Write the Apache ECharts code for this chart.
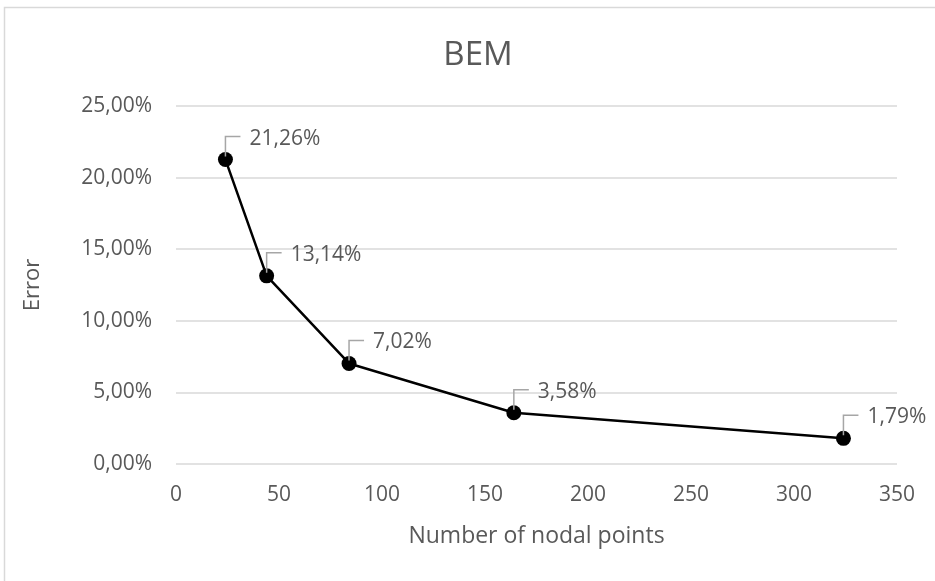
<!DOCTYPE html>
<html>
<head>
<meta charset="utf-8">
<script src="https://cdn.jsdelivr.net/npm/echarts@6/dist/echarts.min.js"></script>
<style>
  html, body { margin: 0; padding: 0; background: #fff; }
  #chart { width: 935px; height: 581px; }
</style>
</head>
<body>
<div id="chart"></div>
<script>
// BEM discretisation study: error versus number of nodal points
const nodalPoints = [24, 44, 84, 164, 324];
const errorPct = [21.26, 13.14, 7.02, 3.58, 1.79];
const titleText = 'BEM';
const xName = 'Number of nodal points';
const yName = 'Error';

const FONT = '"Open Sans", "Liberation Sans", sans-serif';
const TEXT = '#595959';
const GRID = '#d9d9d9';

const pct = v => v.toFixed(2).replace('.', ',') + '%';
const points = nodalPoints.map((x, i) => [x, errorPct[i]]);

const chart = echarts.init(document.getElementById('chart'));
chart.setOption({
  animation: false,
  backgroundColor: '#fff',
  graphic: [{
    type: 'rect',
    shape: { x: 4.5, y: 7.5, width: 2000, height: 2000 },
    style: { fill: 'none', stroke: GRID, lineWidth: 1.5 },
    silent: true
  }],
  title: {
    text: titleText,
    left: 473,
    top: 34,
    textAlign: 'center',
    textStyle: { color: TEXT, fontFamily: FONT, fontSize: 33, fontWeight: 'normal' }
  },
  grid: { left: 176, right: 38, top: 106, bottom: 117, containLabel: false },
  xAxis: {
    type: 'value',
    min: 0, max: 350, interval: 50,
    name: xName,
    nameLocation: 'middle',
    nameGap: 61,
    nameTextStyle: { color: TEXT, fontFamily: FONT, fontSize: 23 },
    axisLine: { show: false },
    axisTick: { show: false },
    splitLine: { show: false },
    axisLabel: { color: TEXT, fontFamily: FONT, fontSize: 21, margin: 21 }
  },
  yAxis: {
    type: 'value',
    min: 0, max: 25, interval: 5,
    name: yName,
    nameLocation: 'middle',
    nameGap: 132,
    nameTextStyle: { color: TEXT, fontFamily: FONT, fontSize: 22 },
    axisLine: { show: false },
    axisTick: { show: false },
    splitLine: { lineStyle: { color: GRID, width: 1.5 } },
    axisLabel: { color: TEXT, fontFamily: FONT, fontSize: 21, margin: 24, formatter: pct }
  },
  series: [
    {
      type: 'line',
      data: points,
      lineStyle: { color: '#000', width: 2.5 },
      itemStyle: { color: '#000' },
      symbol: 'circle',
      symbolSize: 15,
      z: 3
    },
    {
      // value callouts with a bent leader line
      type: 'custom',
      data: points,
      z: 4,
      renderItem: function (params, api) {
        const p = api.coord([api.value(0), api.value(1)]);
        const v = api.value(1);
        return {
          type: 'group',
          children: [
            {
              type: 'polyline',
              shape: { points: [[p[0], p[1] - 3], [p[0], p[1] - 23], [p[0] + 15, p[1] - 23]] },
              style: { stroke: '#a6a6a6', lineWidth: 1.5, fill: 'none' }
            },
            {
              type: 'text',
              x: p[0] + 24,
              y: p[1] - 21,
              style: {
                text: pct(v),
                fill: TEXT,
                font: '21px ' + FONT,
                align: 'left',
                verticalAlign: 'middle'
              }
            }
          ]
        };
      }
    }
  ]
});
</script>
</body>
</html>
